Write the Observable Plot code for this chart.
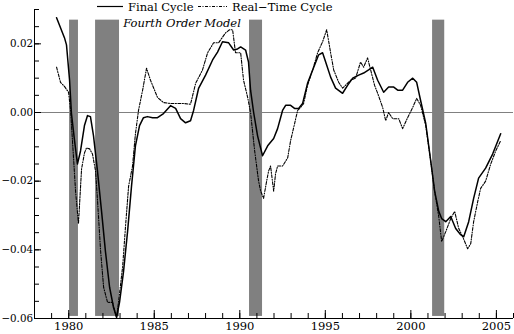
<!DOCTYPE html>
<html>
<head>
<meta charset="utf-8">
<script src="https://cdn.jsdelivr.net/npm/d3@7"></script>
<script src="https://cdn.jsdelivr.net/npm/@observablehq/plot@0.6"></script>
<style>
  html, body { margin: 0; padding: 0; background: #fff; }
  #chart { width: 514px; height: 334px; }
  #chart svg text { font-family: "DejaVu Serif", serif !important; }
</style>
</head>
<body>
<div id="chart"></div>
<script>
// Final cycle (solid)
const finalT = [1979.29,1979.52,1979.75,1979.87,1980.05,1980.16,1980.34,1980.51,1980.69,1980.92,1981.10,1981.27,1981.45,1981.68,1981.92,1982.15,1982.39,1982.62,1982.80,1982.97,1983.20,1983.44,1983.67,1983.90,1984.14,1984.37,1984.60,1984.90,1985.19,1985.54,1985.95,1986.25,1986.54,1986.83,1987.12,1987.30,1987.59,1988.00,1988.41,1988.70,1988.99,1989.35,1989.64,1989.87,1990.05,1990.34,1990.51,1990.63,1990.81,1991.04,1991.33,1991.63,1991.98,1992.21,1992.50,1992.68,1992.97,1993.20,1993.44,1993.67,1993.96,1994.26,1994.61,1994.84,1995.02,1995.31,1995.60,1996.01,1996.30,1996.60,1996.95,1997.24,1997.53,1997.77,1998.06,1998.41,1998.70,1999.00,1999.23,1999.52,1999.81,2000.11,2000.34,2000.57,2000.87,2001.16,2001.39,2001.63,2001.80,2002.04,2002.33,2002.62,2002.91,2003.09,2003.38,2003.67,2003.96,2004.37,2004.78,2005.25];
const finalV = [0.0276,0.0247,0.0218,0.0197,0.0094,-0.0003,-0.0082,-0.0150,-0.0112,-0.0038,-0.0009,-0.0012,-0.0068,-0.0170,-0.0288,-0.0406,-0.0509,-0.0568,-0.0597,-0.0553,-0.0465,-0.0347,-0.0215,-0.0097,-0.0038,-0.0015,-0.0012,-0.0015,-0.0015,-0.0003,0.0020,0.0012,-0.0018,-0.0030,-0.0024,0.0006,0.0070,0.0109,0.0153,0.0176,0.0206,0.0203,0.0182,0.0185,0.0191,0.0182,0.0147,0.0065,0.0000,-0.0068,-0.0126,-0.0097,-0.0076,-0.0047,0.0006,0.0021,0.0021,0.0012,0.0012,0.0026,0.0085,0.0124,0.0168,0.0174,0.0147,0.0103,0.0071,0.0056,0.0079,0.0100,0.0109,0.0115,0.0124,0.0132,0.0094,0.0059,0.0074,0.0074,0.0065,0.0065,0.0088,0.0100,0.0088,0.0035,-0.0032,-0.0141,-0.0229,-0.0288,-0.0309,-0.0318,-0.0303,-0.0338,-0.0356,-0.0362,-0.0318,-0.0250,-0.0191,-0.0162,-0.0121,-0.0062];

// Real-time cycle (dash-dot)
const realT = [1979.29,1979.52,1979.75,1979.99,1980.11,1980.22,1980.40,1980.57,1980.75,1980.92,1981.04,1981.22,1981.39,1981.57,1981.68,1981.86,1982.04,1982.27,1982.56,1982.80,1982.91,1983.15,1983.32,1983.50,1983.73,1983.90,1984.08,1984.32,1984.55,1984.78,1985.19,1985.54,1985.95,1986.36,1986.77,1987.12,1987.42,1987.82,1988.12,1988.47,1988.76,1989.17,1989.40,1989.58,1989.75,1990.05,1990.22,1990.46,1990.63,1990.87,1991.10,1991.22,1991.39,1991.57,1991.68,1991.80,1991.98,1992.09,1992.21,1992.50,1992.80,1992.97,1993.15,1993.38,1993.56,1993.73,1993.96,1994.26,1994.55,1994.84,1995.08,1995.31,1995.49,1995.78,1996.01,1996.48,1996.77,1997.06,1997.24,1997.47,1997.65,1997.88,1998.06,1998.35,1998.53,1998.70,1998.94,1999.29,1999.52,1999.81,2000.11,2000.34,2000.57,2000.87,2001.16,2001.39,2001.63,2001.80,2002.04,2002.33,2002.56,2002.80,2003.03,2003.32,2003.50,2003.67,2003.91,2004.08,2004.37,2004.67,2004.96,2005.25];
const realV = [0.0132,0.0088,0.0076,0.0059,0.0006,-0.0082,-0.0229,-0.0324,-0.0165,-0.0118,-0.0103,-0.0106,-0.0121,-0.0171,-0.0253,-0.0400,-0.0509,-0.0553,-0.0553,-0.0597,-0.0553,-0.0450,-0.0332,-0.0215,-0.0156,-0.0062,0.0006,0.0065,0.0129,0.0094,0.0044,0.0029,0.0026,0.0026,0.0026,0.0024,0.0085,0.0124,0.0174,0.0203,0.0203,0.0232,0.0241,0.0241,0.0174,0.0174,0.0094,0.0044,0.0000,-0.0112,-0.0200,-0.0229,-0.0250,-0.0200,-0.0171,-0.0156,-0.0229,-0.0179,-0.0156,-0.0156,-0.0132,-0.0082,-0.0044,0.0006,0.0015,0.0026,0.0079,0.0124,0.0174,0.0206,0.0241,0.0174,0.0124,0.0088,0.0071,0.0094,0.0100,0.0147,0.0132,0.0159,0.0124,0.0079,0.0056,0.0015,-0.0024,0.0000,-0.0018,-0.0018,-0.0047,-0.0015,0.0015,0.0041,0.0021,-0.0038,-0.0141,-0.0229,-0.0303,-0.0376,-0.0347,-0.0309,-0.0288,-0.0338,-0.0362,-0.0397,-0.0382,-0.0318,-0.0259,-0.0221,-0.0200,-0.0150,-0.0112,-0.0082];

// Recession shading
const recStart = [1980.05, 1981.57, 1990.57, 2001.27];
const recEnd   = [1980.57, 1982.97, 1991.33, 2001.98];
const shadeTop = 0.0269;
const shadeBottom = -0.0594;

// Ticks
const xMajor = [1980, 1985, 1990, 1995, 2000, 2005];
const xMinor = d3.range(1979, 2007);
const yMajor = [-0.06, -0.04, -0.02, 0.00, 0.02];
const yMinor = d3.range(-0.06, 0.0301, 0.005).map(v => +v.toFixed(3));

const seriesNames = ["Final Cycle", "Real\u2212Time Cycle"];
const subtitle = "Fourth Order Model";

const finalData = finalT.map((t, i) => ({t, v: finalV[i]}));
const realData = realT.map((t, i) => ({t, v: realV[i]}));
const recData = recStart.map((s, i) => ({s, e: recEnd[i]}));

const font = "DejaVu Serif, serif";

const plot = Plot.plot({
  width: 514,
  height: 334,
  marginLeft: 34,
  marginRight: 1,
  marginTop: 9,
  marginBottom: 16,
  style: {fontFamily: font, fontSize: "11.5px", background: "#fff", color: "#000"},
  x: {domain: [1978, 2006]},
  y: {domain: [-0.06, 0.03]},
  marks: [
    Plot.rect(recData, {x1: "s", x2: "e", y1: shadeBottom, y2: shadeTop, fill: "#808080"}),
    Plot.ruleY([0], {stroke: "#808080", strokeWidth: 1}),
    Plot.line(realData, {x: "t", y: "v", stroke: "#000", strokeWidth: 1.1, strokeDasharray: "3,1.5,1,1.5"}),
    Plot.line(finalData, {x: "t", y: "v", stroke: "#000", strokeWidth: 1.5}),
    Plot.axisX({ticks: xMinor, tickSize: -5, text: null, label: null}),
    Plot.axisX({ticks: xMajor, tickSize: -8, text: null, label: null}),
    Plot.axisX({ticks: xMajor, tickSize: 0, tickPadding: 3, tickFormat: d => String(d), label: null, fontSize: 11.5}),
    Plot.axisY({ticks: yMinor, tickSize: -5, text: null, label: null}),
    Plot.axisY({ticks: yMajor, tickSize: -7, text: null, label: null}),
    Plot.axisY({ticks: yMajor, tickSize: 0, tickPadding: 1.5, tickFormat: d3.format(".2f"), label: null, fontSize: 10.3}),
    Plot.ruleX([1978], {stroke: "#000"}),
    Plot.ruleY([-0.06], {stroke: "#000"})
  ]
});

document.getElementById("chart").appendChild(plot);

// Legend overlay
const svg = d3.select(plot);
svg.selectAll("text").attr("font-family", font);
const lg = svg.append("g").attr("font-family", font).attr("font-size", 11.5)
  .attr("fill", "#000").attr("text-anchor", "start");
lg.append("line").attr("x1", 97).attr("x2", 123).attr("y1", 6.5).attr("y2", 6.5)
  .attr("stroke", "#000").attr("stroke-width", 1.2);
lg.append("text").attr("x", 128).attr("y", 11).attr("text-anchor", "start").text(seriesNames[0]);
lg.append("line").attr("x1", 198).attr("x2", 227).attr("y1", 6.5).attr("y2", 6.5)
  .attr("stroke", "#000").attr("stroke-width", 1.1).attr("stroke-dasharray", "3,1.5,1,1.5");
lg.append("text").attr("x", 232).attr("y", 11).attr("text-anchor", "start").text(seriesNames[1]);
lg.append("text").attr("x", 182).attr("y", 27).attr("text-anchor", "middle")
  .attr("font-style", "italic").text(subtitle);
</script>
</body>
</html>
